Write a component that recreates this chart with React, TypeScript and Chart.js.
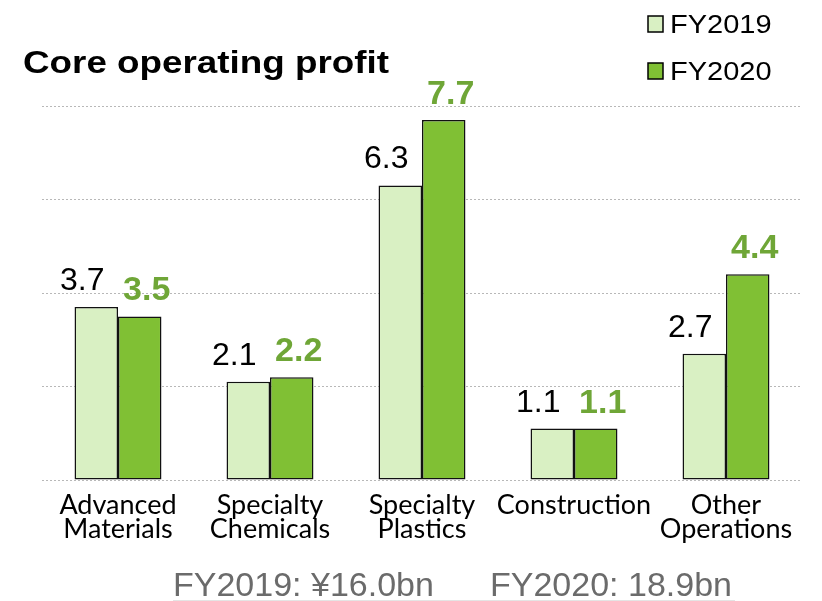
import React, { useEffect, useRef } from "react";
import { Chart, registerables } from "chart.js";

Chart.register(...registerables);

const categories: string[][] = [
  ["Advanced", "Materials"],
  ["Specialty", "Chemicals"],
  ["Specialty", "Plastics"],
  ["Construction"],
  ["Other", "Operations"],
];
const fy2019: number[] = [3.7, 2.1, 6.3, 1.1, 2.7];
const fy2020: number[] = [3.5, 2.2, 7.7, 1.1, 4.4];
const seriesNames: string[] = ["FY2019", "FY2020"];
const yTicks: number[] = [0, 2, 4, 6, 8];
const titleText = "Core operating profit";
const footerTexts: string[] = ["FY2019: ¥16.0bn", "FY2020: 18.9bn"];

const LIGHT = "#d9f0c3";
const DARK = "#80c034";
const LABEL_GREEN = "#6fa637";

const overlayPlugin = {
  id: "overlay",
  afterDatasetsDraw(chart: any) {
    const ctx = chart.ctx as CanvasRenderingContext2D;
    chart.data.datasets.forEach((ds: any, di: number) => {
      const meta = chart.getDatasetMeta(di);
      meta.data.forEach((bar: any, i: number) => {
        const v = ds.data[i];
        ctx.save();
        ctx.textAlign = "center";
        ctx.textBaseline = "alphabetic";
        if (di === 0) {
          ctx.font = "32px 'Liberation Sans', Arial, sans-serif";
          ctx.fillStyle = "#000";
          ctx.fillText(v.toFixed(1), bar.x - 14, bar.y - 17);
        } else {
          ctx.font = "bold 34px 'Liberation Sans', Arial, sans-serif";
          ctx.fillStyle = LABEL_GREEN;
          ctx.fillText(v.toFixed(1), bar.x + 7, bar.y - 16);
        }
        ctx.restore();
      });
    });
  },
  afterDraw(chart: any) {
    const ctx = chart.ctx as CanvasRenderingContext2D;
    // title
    ctx.save();
    ctx.translate(23, 73);
    ctx.scale(1.15, 1);
    ctx.font = "bold 32px 'Liberation Sans', Arial, sans-serif";
    ctx.fillStyle = "#000";
    ctx.textBaseline = "alphabetic";
    ctx.fillText(titleText, 0, 0);
    ctx.restore();

    // legend
    const colors = [LIGHT, DARK];
    const rows = [33, 80];
    seriesNames.forEach((name, i) => {
      const base = rows[i];
      ctx.save();
      ctx.fillStyle = colors[i];
      ctx.fillRect(648, base - 17, 15, 16);
      ctx.strokeStyle = "#000";
      ctx.lineWidth = 1.5;
      ctx.strokeRect(648, base - 17, 15, 16);
      ctx.translate(670, base);
      ctx.scale(1.16, 1);
      ctx.font = "25px 'Liberation Sans', Arial, sans-serif";
      ctx.fillStyle = "#000";
      ctx.textBaseline = "alphabetic";
      ctx.fillText(name, 0, 0);
      ctx.restore();
    });

    // footer
    ctx.save();
    ctx.font = "34px 'Liberation Sans', Arial, sans-serif";
    ctx.fillStyle = "#6b6b6b";
    ctx.textBaseline = "alphabetic";
    ctx.fillText(footerTexts[0], 173, 596);
    ctx.fillText(footerTexts[1], 490, 596);
    ctx.strokeStyle = "#e4e4e4";
    ctx.lineWidth = 1;
    ctx.beginPath();
    ctx.moveTo(173, 600.5);
    ctx.lineTo(735, 600.5);
    ctx.stroke();
    ctx.restore();
  },
};

export default function App() {
  const ref = useRef<HTMLCanvasElement | null>(null);
  useEffect(() => {
    if (!ref.current) return;
    const chart = new Chart(ref.current, {
      type: "bar",
      data: {
        labels: categories,
        datasets: [
          {
            label: seriesNames[0],
            data: fy2019,
            backgroundColor: LIGHT,
            borderColor: "#111",
            borderWidth: 1.5,
            borderSkipped: false,
            categoryPercentage: 0.572,
            barPercentage: 1,
          },
          {
            label: seriesNames[1],
            data: fy2020,
            backgroundColor: DARK,
            borderColor: "#111",
            borderWidth: 1.5,
            borderSkipped: false,
            categoryPercentage: 0.572,
            barPercentage: 1,
          },
        ],
      },
      options: {
        responsive: false,
        animation: false,
        devicePixelRatio: 1,
        layout: { padding: { top: 106, right: 20, left: 0, bottom: 0 } },
        plugins: {
          legend: { display: false },
          tooltip: { enabled: false },
          title: { display: false },
        },
        scales: {
          x: {
            grid: { display: false, drawTicks: false },
            border: { display: false },
            ticks: {
              color: "#000",
              padding: 14,
              maxRotation: 0,
              autoSkip: false,
              font: { family: "Lato, 'Noto Sans', sans-serif", size: 27, lineHeight: 0.87 },
            },
            afterFit: (s: any) => {
              s.height = 121;
            },
          },
          y: {
            min: yTicks[0],
            max: yTicks[yTicks.length - 1],
            afterBuildTicks: (s: any) => {
              s.ticks = yTicks.map((v) => ({ value: v }));
            },
            ticks: { display: false },
            grid: { color: "#b8b8b8", lineWidth: 1, drawTicks: false },
            border: { display: false, dash: [2, 2] },
            afterFit: (s: any) => {
              s.width = 42;
            },
          },
        },
      },
      plugins: [overlayPlugin],
    });
    return () => chart.destroy();
  }, []);
  return (
    <div style={{ position: "absolute", left: 0, top: 0, width: 822, height: 601, background: "#fff" }}>
      <canvas ref={ref} width={822} height={601} style={{ display: "block" }} />
    </div>
  );
}
